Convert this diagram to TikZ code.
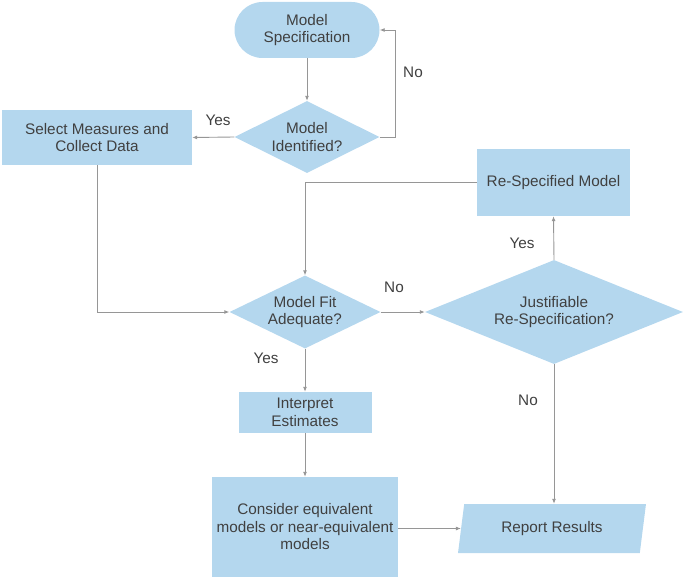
\documentclass[tikz,border=0pt]{standalone}
\usepackage{fontspec}
\setmainfont{Liberation Sans}
\usetikzlibrary{shapes.geometric,shapes.misc,arrows.meta}
\definecolor{boxfill}{RGB}{180,215,238}
\definecolor{txt}{RGB}{64,64,64}
\definecolor{ln}{RGB}{150,150,150}
\tikzset{
  base/.style={fill=boxfill, draw=none, text=txt, font=\fontsize{15.3}{17.5}\selectfont, align=center, inner sep=0pt},
  term/.style={base, rounded rectangle, minimum width=145pt, minimum height=56pt},
  boxnode/.style={base, rectangle},
  dec/.style={base, diamond, shape aspect=2.2},
  io/.style={base, trapezium, trapezium left angle=76, trapezium right angle=104, trapezium stretches=true},
  conn/.style={draw=ln, line width=0.9pt, -{Latex[length=5pt,width=4pt]}},
  lab/.style={text=txt, font=\fontsize{15.3}{17.5}\selectfont, inner sep=0pt}
}
\begin{document}
\begin{tikzpicture}[x=1pt,y=-1pt]
\useasboundingbox (0,0) rectangle (685,578);
\node[term] (spec) at (307,30) {Model\\Specification};
\node[dec, minimum width=145pt, minimum height=72pt] (ident) at (307,137) {Model\\Identified?};
\node[boxnode, minimum width=190pt, minimum height=55pt] (select) at (97,137.5) {Select Measures and\\Collect Data};
\node[dec, minimum width=151pt, minimum height=73pt] (fit) at (305,312) {Model Fit\\Adequate?};
\node[dec, minimum width=258pt, minimum height=104pt] (just) at (554,312) {Justifiable\\Re-Specification?};
\node[boxnode, minimum width=153pt, minimum height=67pt] (respec) at (553.5,182.5) {Re-Specified Model};
\node[boxnode, minimum width=133pt, minimum height=41pt] (interp) at (305,412.5) {Interpret\\Estimates};
\node[boxnode, minimum width=186pt, minimum height=100pt] (consider) at (305,527) {Consider equivalent\\models or near-equivalent\\models};
\node[io, minimum width=188pt, minimum height=49pt] (report) at (552,528.5) {Report Results};

\coordinate (c1) at (395,137);
\coordinate (c2) at (395,30);
\coordinate (c3) at (97,312);
\coordinate (c4) at (305,182.5);

\draw[conn] (spec.south) -- (ident.north);
\draw[conn] (ident.east) -- (c1) -- (c2) -- (spec.east);
\draw[conn] (ident.west) -- (select.east);
\draw[conn] (select.south) -- (c3) -- (fit.west);
\draw[conn] (fit.east) -- (just.west);
\draw[conn] (just.north) -- (respec.south);
\draw[conn] (respec.west) -- (c4) -- (fit.north);
\draw[conn] (fit.south) -- (interp.north);
\draw[conn] (interp.south) -- (consider.north);
\draw[conn] (consider.east |- report.west) -- (report.west);
\draw[conn] (just.south) -- (just.south |- report.north);

\node[lab] (l1) at (413,72) {No};
\node[lab] (l2) at (218,120) {Yes};
\node[lab] (l3) at (394,287) {No};
\node[lab] (l4) at (522,243) {Yes};
\node[lab] (l5) at (266,358) {Yes};
\node[lab] (l6) at (528,400) {No};
\end{tikzpicture}
\end{document}
